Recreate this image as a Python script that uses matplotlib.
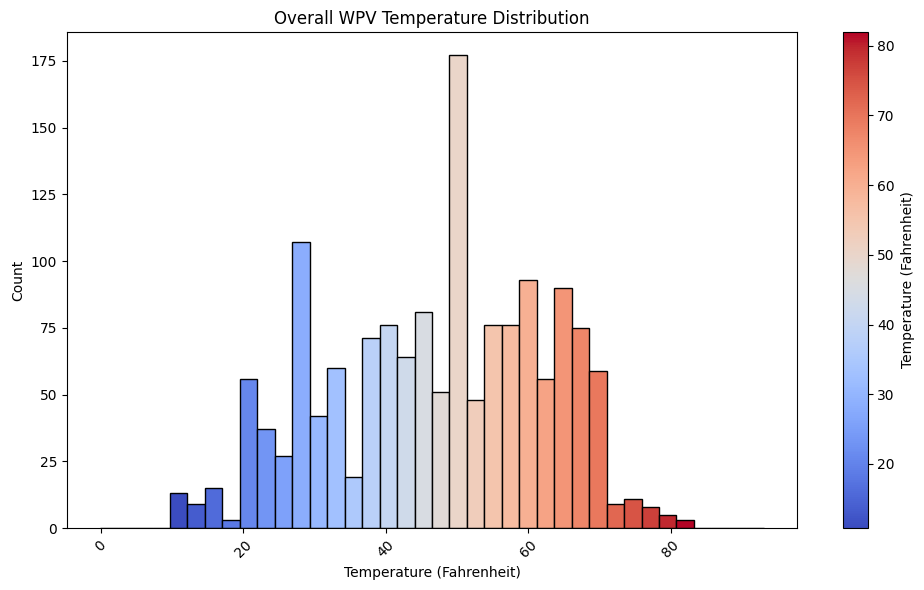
import numpy as np
import matplotlib.pyplot as plt
from matplotlib import cm, colors

bin_width = 2.45
first_edge = -0.07
counts = [0, 0, 0, 0,
          13, 9, 15, 3, 56, 37, 27, 107, 42, 60, 19, 71, 76, 64, 81, 51,
          177, 48, 76, 76, 93, 56, 90, 75, 59, 9, 11, 8, 5, 3,
          0, 0, 0, 0]
temp_min, temp_max = 10.8, 82.0

edges = first_edge + bin_width * np.arange(len(counts) + 1)
centers = (edges[:-1] + edges[1:]) / 2
norm = colors.Normalize(vmin=temp_min, vmax=temp_max)
cmap = cm.coolwarm

fig = plt.figure(figsize=(9.24, 5.9), dpi=100)
ax = fig.add_axes([0.0725, 0.105, 0.790, 0.841])
cax = fig.add_axes([0.912, 0.105, 0.027, 0.841])
ax.bar(edges[:-1], counts, width=bin_width, align='edge',
       color=cmap(norm(np.clip(centers, temp_min, temp_max))),
       edgecolor='black', linewidth=1)
ax.set_title('Overall WPV Temperature Distribution')
ax.set_xlabel('Temperature (Fahrenheit)')
ax.set_ylabel('Count')
plt.setp(ax.get_xticklabels(), rotation=45)
sm = cm.ScalarMappable(norm=norm, cmap=cmap)
cb = fig.colorbar(sm, cax=cax)
cb.set_label('Temperature (Fahrenheit)')
plt.savefig('out.png')
